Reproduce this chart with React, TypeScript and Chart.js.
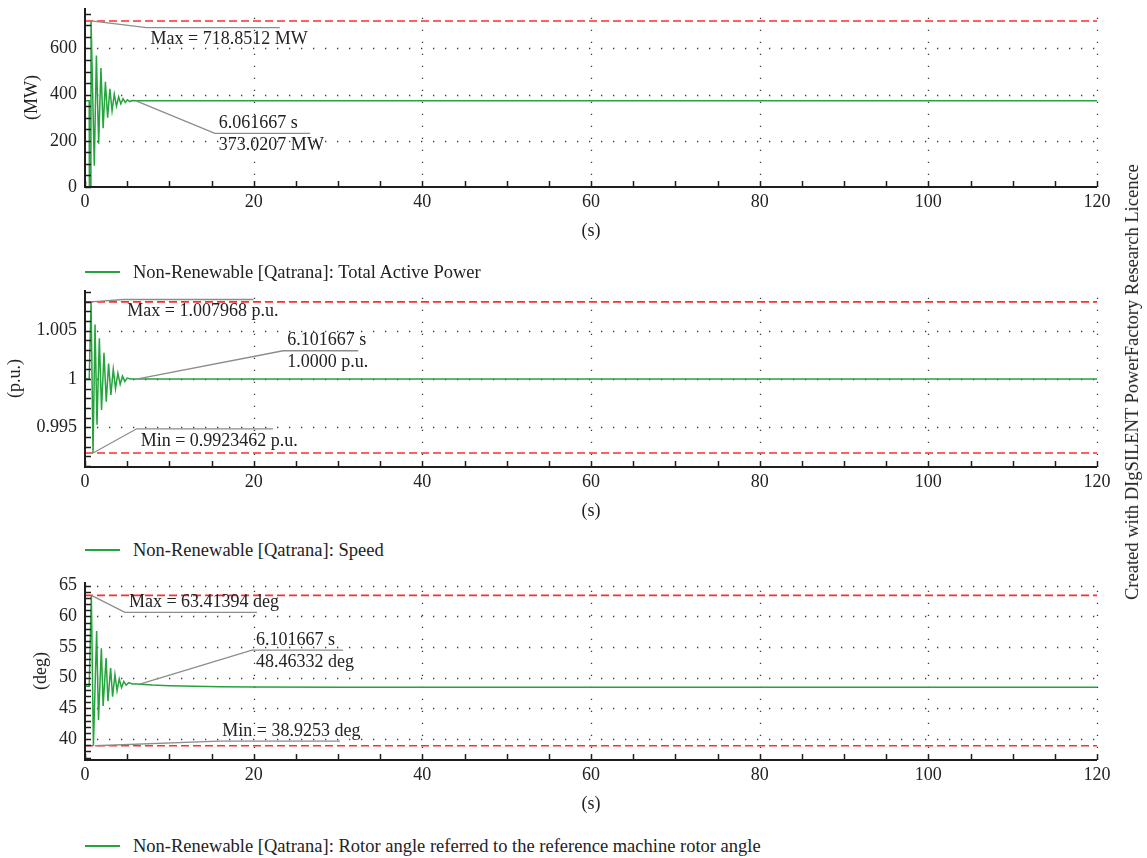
import React, { useEffect, useRef } from 'react';
import { Chart, registerables } from 'chart.js';

Chart.register(...registerables);

const FONT_FAMILY = "'Liberation Serif', 'Times New Roman', serif";
const FONT_SIZE = 18;
const LEGEND_SIZE = 18.5;
const TEXT = '#222222';
const GREEN = '#25a33c';
const RED = 'rgba(255, 35, 35, 0.95)';
const GRAY = '#8c8c8c';

// ---- shared x axis (seconds) ----
const xTicks = [0, 20, 40, 60, 80, 100, 120];
const xMinorStep = 5;

// ---- Panel 1: Total Active Power ----
const timePower = [0, 0.5, 0.52, 0.7, 0.72, 1.1, 1.35, 1.62, 1.89, 2.15, 2.42, 2.68, 2.95, 3.21, 3.47, 3.73, 3.99, 4.25, 4.51, 4.77, 5.03, 5.3, 5.6, 6.06, 120];
const powerMW = [373.02, 373.02, 0, 0, 718.85, 92, 569, 187, 515, 255, 455, 300, 425, 330, 402, 350, 390, 360, 382, 366, 378, 370, 374, 373.02, 373.02];
const powerTicks = [0, 200, 400, 600];
const powerTickLabels = ['0', '200', '400', '600'];
const powerMax = 718.8512;

// ---- Panel 2: Speed ----
const timeSpeed = [0, 0.5, 0.72, 0.95, 1.19, 1.42, 1.7, 1.96, 2.25, 2.52, 2.8, 3.07, 3.35, 3.62, 3.9, 4.17, 4.45, 4.72, 5.0, 5.4, 6.1, 120];
const speedPU = [1, 1, 1.007968, 0.9923462, 1.00564, 0.99526, 1.0042, 0.9968, 1.0027, 0.99766, 1.0016, 0.99835, 1.001, 0.999, 1.0006, 0.99945, 1.0003, 0.99975, 1.0001, 1.0, 1.0, 1.0];
const speedTicks = [0.995, 1, 1.005];
const speedTickLabels = ['0.995', '1', '1.005'];
const speedMax = 1.007968;
const speedMin = 0.9923462;

// ---- Panel 3: Rotor angle ----
const timeAngle = [0, 0.5, 0.75, 1.0, 1.38, 1.6, 1.94, 2.15, 2.5, 2.72, 3.04, 3.27, 3.55, 3.8, 4.06, 4.33, 4.6, 4.87, 5.2, 5.6, 6.1, 8, 10, 13, 16, 20, 30, 120];
const angleDeg = [48.6, 48.6, 63.41394, 38.9253, 57.6, 43.1, 54.8, 45.4, 53.2, 46.2, 51.6, 46.9, 50.5, 47.9, 49.8, 48.4, 49.4, 48.8, 49.2, 49.0, 48.97, 48.8, 48.7, 48.6, 48.53, 48.49, 48.47, 48.463];
const angleTicks = [40, 45, 50, 55, 60, 65];
const angleTickLabels = ['40', '45', '50', '55', '60', '65'];
const angleMax = 63.41394;
const angleMin = 38.9253;

type Ann = { px: number; py: number; ex: number; ey: number; end: number; above: string[]; below: string[] };

type PanelCfg = {
  top: number;
  height: number;
  time: number[];
  values: number[];
  yMin: number;
  yMax: number;
  yTicks: number[];
  yTickLabels: string[];
  yMinorStep: number;
  yTitle: string;
  yTitlePad: number;
  refLines: number[];
  anns: Ann[];
};

const panels: PanelCfg[] = [
  {
    top: -12, height: 254,
    time: timePower, values: powerMW,
    yMin: 0, yMax: 775, yTicks: powerTicks, yTickLabels: powerTickLabels, yMinorStep: 50,
    yTitle: '(MW)', yTitlePad: 21.5,
    refLines: [powerMax],
    anns: [
      { px: 0.72, py: powerMax, ex: 7.3, ey: 690, end: 23.1, above: [], below: ['Max = 718.8512 MW'] },
      { px: 6.06, py: 373.02, ex: 15.4, ey: 232, end: 26.7, above: ['6.061667 s'], below: ['373.0207 MW'] },
    ],
  },
  {
    top: 270, height: 252,
    time: timeSpeed, values: speedPU,
    yMin: 0.9909, yMax: 1.0092, yTicks: speedTicks, yTickLabels: speedTickLabels, yMinorStep: 0.001,
    yTitle: '(p.u.)', yTitlePad: 4,
    refLines: [speedMax, speedMin],
    anns: [
      { px: 0.72, py: speedMax, ex: 4.54, ey: 1.00822, end: 19.97, above: [], below: ['Max = 1.007968 p.u.'] },
      { px: 6.25, py: 1.0, ex: 23.5, ey: 1.00292, end: 32.4, above: ['6.101667 s'], below: ['1.0000 p.u.'] },
      { px: 0.95, py: speedMin, ex: 6.13, ey: 0.99485, end: 22.3, above: [], below: ['Min = 0.9923462 p.u.'] },
    ],
  },
  {
    top: 562, height: 253,
    time: timeAngle, values: angleDeg,
    yMin: 36.6, yMax: 65.6, yTicks: angleTicks, yTickLabels: angleTickLabels, yMinorStep: 1,
    yTitle: '(deg)', yTitlePad: 30,
    refLines: [angleMax, angleMin],
    anns: [
      { px: 0.75, py: angleMax, ex: 4.74, ey: 60.65, end: 20.4, above: ['Max = 63.41394 deg'], below: [] },
      { px: 6.5, py: 48.97, ex: 19.8, ey: 54.5, end: 30.6, above: ['6.101667 s'], below: ['48.46332 deg'] },
      { px: 1.19, py: angleMin, ex: 15.8, ey: 39.67, end: 30.25, above: ['Min = 38.9253 deg'], below: [] },
    ],
  },
];

const legends = [
  { y: 272, text: 'Non-Renewable [Qatrana]: Total Active Power' },
  { y: 550, text: 'Non-Renewable [Qatrana]: Speed' },
  { y: 846, text: 'Non-Renewable [Qatrana]: Rotor angle referred to the reference machine rotor angle' },
];

const font = { family: FONT_FAMILY, size: FONT_SIZE, lineHeight: 1.2 };

function makeDecor(cfg: PanelCfg) {
  return {
    id: 'panelDecor',
    beforeDatasetsDraw(chart: any) {
      const { ctx, chartArea: a, scales } = chart;
      const xs = scales.x, ys = scales.y;
      ctx.save();
      ctx.strokeStyle = '#3a3a3a';
      ctx.lineWidth = 1.3;
      ctx.setLineDash([1.3, 10.7]);
      xTicks.forEach((v) => {
        if (v === 0) return;
        const x = Math.round(xs.getPixelForValue(v)) + 0.5;
        ctx.beginPath(); ctx.moveTo(x, a.bottom); ctx.lineTo(x, a.top); ctx.stroke();
      });
      cfg.yTicks.forEach((v) => {
        if (v === cfg.yMin) return;
        const y = Math.round(ys.getPixelForValue(v)) + 0.5;
        ctx.beginPath(); ctx.moveTo(a.left, y); ctx.lineTo(a.right, y); ctx.stroke();
      });
      ctx.restore();
    },
    afterDatasetsDraw(chart: any) {
      const { ctx, chartArea: a, scales } = chart;
      const xs = scales.x, ys = scales.y;
      ctx.save();
      // axis lines
      ctx.strokeStyle = '#1e1e1e';
      ctx.lineWidth = 2;
      ctx.beginPath();
      ctx.moveTo(a.left, a.top); ctx.lineTo(a.left, a.bottom); ctx.lineTo(a.right, a.bottom);
      ctx.stroke();
      // ticks (inside)
      ctx.lineWidth = 1.5;
      for (let v = 0; v <= 120 + 1e-9; v += xMinorStep) {
        const x = Math.round(xs.getPixelForValue(v)) + 0.5;
        ctx.beginPath(); ctx.moveTo(x, a.bottom); ctx.lineTo(x, a.bottom - 6); ctx.stroke();
      }
      const st = cfg.yMinorStep;
      const first = Math.ceil(cfg.yMin / st - 1e-9);
      const last = Math.floor(cfg.yMax / st + 1e-9);
      for (let k = first; k <= last; k++) {
        const y = Math.round(ys.getPixelForValue(k * st)) + 0.5;
        ctx.beginPath(); ctx.moveTo(a.left, y); ctx.lineTo(a.left + 6, y); ctx.stroke();
      }
      // annotations
      ctx.strokeStyle = GRAY;
      ctx.lineWidth = 1.3;
      ctx.font = `${FONT_SIZE}px ${FONT_FAMILY}`;
      ctx.fillStyle = TEXT;
      ctx.textBaseline = 'middle';
      ctx.textAlign = 'left';
      cfg.anns.forEach((an) => {
        const px = xs.getPixelForValue(an.px), py = ys.getPixelForValue(an.py);
        const ex = xs.getPixelForValue(an.ex), ey = ys.getPixelForValue(an.ey);
        const lx = xs.getPixelForValue(an.end);
        ctx.beginPath(); ctx.moveTo(px, py); ctx.lineTo(ex, ey); ctx.lineTo(lx, ey); ctx.stroke();
        an.above.forEach((s, i) => ctx.fillText(s, ex + 4, ey - 10 - i * 21));
        an.below.forEach((s, i) => ctx.fillText(s, ex + 4, ey + 12 + i * 21));
      });
      ctx.restore();
    },
  };
}

function Panel({ cfg }: { cfg: PanelCfg }) {
  const ref = useRef<HTMLCanvasElement | null>(null);
  useEffect(() => {
    if (!ref.current) return;
    const series = cfg.time.map((t, i) => ({ x: t, y: cfg.values[i] }));
    const datasets: any[] = [
      { data: series, borderColor: GREEN, borderWidth: 1.5, pointRadius: 0, tension: 0 },
      ...cfg.refLines.map((v) => ({
        data: [{ x: 0, y: v }, { x: 120, y: v }],
        borderColor: RED, borderWidth: 1.6, borderDash: [8, 4], pointRadius: 0, tension: 0,
      })),
    ];
    const chart = new Chart(ref.current, {
      type: 'line',
      data: { datasets },
      plugins: [makeDecor(cfg)],
      options: {
        responsive: false,
        animation: false,
        events: [],
        layout: { padding: { top: 20, right: 50, left: 0, bottom: 0 } },
        plugins: { legend: { display: false }, tooltip: { enabled: false } },
        scales: {
          x: {
            type: 'linear', min: 0, max: 120,
            afterBuildTicks: (s: any) => { s.ticks = xTicks.map((v) => ({ value: v })); },
            afterFit: (s: any) => { s.height = 55; },
            grid: { display: false, drawTicks: false },
            border: { display: false },
            ticks: { padding: 4, font, color: TEXT, maxRotation: 0, autoSkip: false, callback: (v: any) => String(v) },
            title: { display: true, text: '(s)', font, color: TEXT, padding: { top: 0, bottom: 0 } },
          },
          y: {
            type: 'linear', min: cfg.yMin, max: cfg.yMax,
            afterBuildTicks: (s: any) => { s.ticks = cfg.yTicks.map((v) => ({ value: v })); },
            afterFit: (s: any) => { s.width = 85; },
            grid: { display: false, drawTicks: false },
            border: { display: false },
            ticks: { padding: 8, font, color: TEXT, autoSkip: false, callback: (_v: any, i: number) => cfg.yTickLabels[i] },
            title: { display: true, text: cfg.yTitle, font, color: TEXT, padding: { top: cfg.yTitlePad, bottom: 0 } },
          },
        },
      } as any,
    });
    return () => chart.destroy();
  }, [cfg]);
  return (
    <canvas
      ref={ref}
      width={1147}
      height={cfg.height}
      style={{ position: 'absolute', left: 0, top: cfg.top, display: 'block' }}
    />
  );
}

export default function App() {
  return (
    <div style={{ position: 'absolute', left: 0, top: 0, width: 1147, height: 858, background: '#ffffff', overflow: 'hidden' }}>
      {panels.map((p, i) => (
        <Panel key={i} cfg={p} />
      ))}
      {legends.map((l, i) => (
        <React.Fragment key={i}>
          <div style={{ position: 'absolute', left: 85, top: l.y - 1, width: 35, height: 2, background: GREEN }} />
          <div
            style={{
              position: 'absolute', left: 133, top: l.y - 11, fontFamily: FONT_FAMILY, fontSize: LEGEND_SIZE,
              lineHeight: '22px', color: TEXT, whiteSpace: 'nowrap',
            }}
          >
            {l.text}
          </div>
        </React.Fragment>
      ))}
      <div
        style={{
          position: 'absolute', left: 1132, top: 382, transform: 'translate(-50%, -50%) rotate(-90deg)',
          fontFamily: FONT_FAMILY, fontSize: LEGEND_SIZE, lineHeight: '22px', color: TEXT, whiteSpace: 'nowrap',
        }}
      >
        Created with DIgSILENT PowerFactory Research Licence
      </div>
    </div>
  );
}
